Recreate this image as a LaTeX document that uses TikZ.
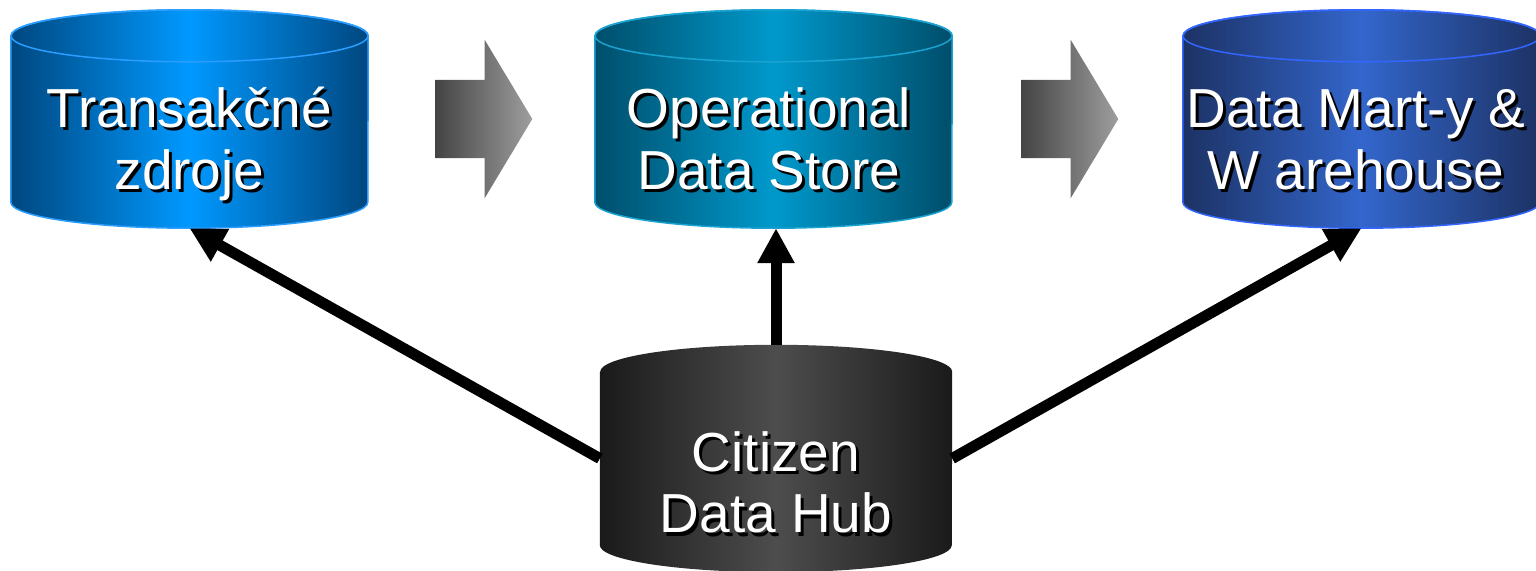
\documentclass[tikz,border=0pt]{standalone}
\usepackage{fontspec}
\setmainfont{Liberation Sans}
\usetikzlibrary{calc,arrows.meta,shapes.arrows}
\definecolor{transEdge}{HTML}{00477F}
\definecolor{transMid}{HTML}{0099FF}
\definecolor{transLine}{HTML}{2A9DFF}
\definecolor{odsEdge}{HTML}{004E6B}
\definecolor{odsMid}{HTML}{0099CC}
\definecolor{odsLine}{HTML}{1AA3D1}
\definecolor{dwhEdge}{HTML}{1C3264}
\definecolor{dwhMid}{HTML}{3366CC}
\definecolor{dwhLine}{HTML}{3366FF}
\definecolor{hubEdge}{HTML}{1A1A1A}
\definecolor{hubMid}{HTML}{4D4D4D}
\definecolor{flowDark}{HTML}{444444}
\definecolor{flowLight}{HTML}{9E9E9E}
\tikzset{
	slot/.style={rectangle, inner sep=0pt, minimum width=357pt, minimum height=218pt},
	txt/.style={font=\fontsize{55}{62}\selectfont, align=center, anchor=base, inner sep=0pt},
	flow/.style={single arrow, single arrow head extend=40pt, single arrow tip angle=118, minimum height=97pt, minimum width=158pt, inner xsep=0pt, inner ysep=39pt, xshift=-9.5pt, left color=flowDark, right color=flowLight},
	link/.style={line width=11pt, -{Triangle[width=35pt,length=35pt]}}
}
% node, x radius, y radius, shading, outline
\def\drum#1#2#3#4#5{\shade[#4, #5] ([yshift=-#3pt]#1.north west) -- ([yshift=#3pt]#1.south west) arc[start angle=180, end angle=360, x radius=#2, y radius=#3] -- ([yshift=-#3pt]#1.north east) arc[start angle=0, end angle=180, x radius=#2, y radius=#3] -- cycle; \path[#5] ([yshift=-#3pt]#1.north) ellipse[x radius=#2, y radius=#3];}
\def\shtext(#1)(#2)#3{\node[txt, black] (#1s) at ($(#2)+(3,-3)$) {#3}; \node[txt, white] (#1) at (#2) {#3};}

\begin{document}
\begin{tikzpicture}[x=1pt, y=1pt]
			%%%%% START %%%%%
			\useasboundingbox (0,0) rectangle (1536,570);
			
			\node[slot] (trans) at (189.5, 451) {};
			\node[slot] (ods) at (773.5, 451) {};
			\node[slot] (dwh) at (1361.5, 451) {};
			\node[slot, minimum width=352pt, minimum height=227pt] (hub) at (776, 111.5) {};
			
			\drum{trans}{178.5}{26}{left color=transEdge, right color=transEdge, middle color=transMid}{draw=transLine, line width=1.5pt}
			\drum{ods}{178.5}{26}{left color=odsEdge, right color=odsEdge, middle color=odsMid}{draw=odsLine, line width=1.5pt}
			\drum{dwh}{178.5}{26}{left color=dwhEdge, right color=dwhEdge, middle color=dwhMid}{draw=dwhLine, line width=1.5pt}
			\drum{hub}{176}{27}{left color=hubEdge, right color=hubEdge, middle color=hubMid}{draw=none}
			
			\node[flow] (f1) at ($(trans.east)!0.5!(ods.west)$) {};
			\node[flow] (f2) at ($(ods.east)!0.5!(dwh.west)$) {};
			
			\draw[link] (hub.west) -- (trans.south);
			\draw[link] (hub.north) -- (hub.north |- ods.south);
			\draw[link] (hub.east) -- (dwh.south);
			
			\shtext(transL)(189.5, 380){Transakčné\\zdroje}
			\shtext(odsL)(769, 380){Operational\\Data Store}
			\shtext(dwhL)(1356, 380){Data Mart-y \&\\W arehouse}
			\shtext(hubL)(776, 37){Citizen\\Data Hub}
			
			%%%%% END %%%%%
\end{tikzpicture}
\end{document}
